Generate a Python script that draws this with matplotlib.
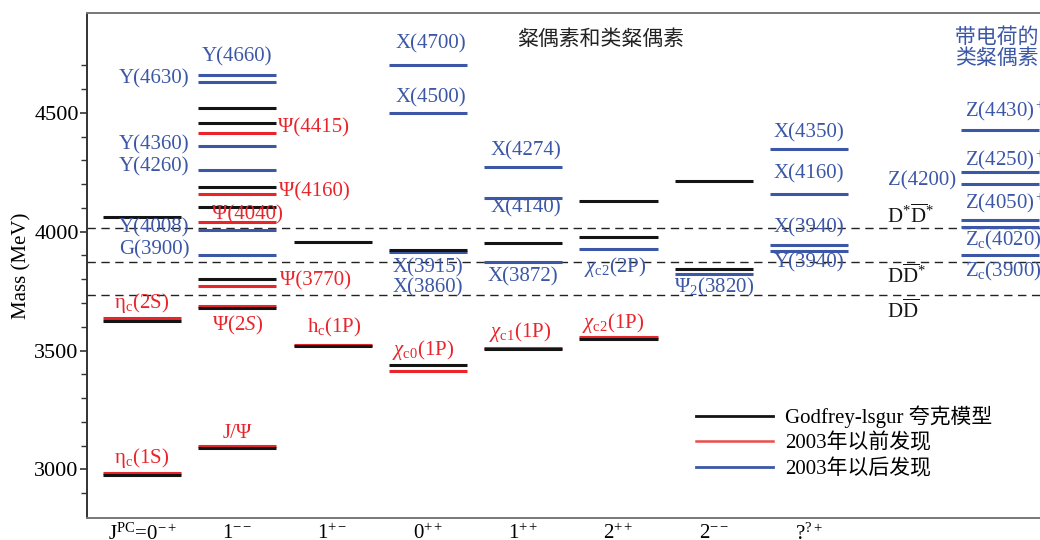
import matplotlib
matplotlib.use("Agg")
import matplotlib.pyplot as plt
from matplotlib.lines import Line2D
from matplotlib.ticker import MultipleLocator

plt.rcParams['font.family'] = ['Liberation Serif', 'Noto Sans CJK SC']
plt.rcParams['mathtext.fontset'] = 'custom'
plt.rcParams['mathtext.rm'] = 'Liberation Serif'
plt.rcParams['mathtext.it'] = 'Liberation Serif:italic'
plt.rcParams['mathtext.bf'] = 'Liberation Serif:bold'

# J^PC columns (index 9 holds the charged states)
jpc_labels = ['J$^{\\mathrm{PC}}$=0$^{-+}$', '1$^{--}$', '1$^{+-}$', '0$^{++}$',
              '1$^{++}$', '2$^{++}$', '2$^{--}$', '?$^{?+}$']

# Godfrey-Isgur quark model predictions
gi_col = [0, 0, 0, 1, 1, 1, 1, 1, 1, 1, 2, 2, 3, 3, 4, 4, 5, 5, 5, 6, 6]
gi_mass = [2975, 3623, 4064, 3090, 3680, 3799, 4102, 4190, 4456, 4520,
           3517, 3956, 3440, 3922, 3507, 3951, 3550, 3976, 4130, 3845, 4212]

# states observed before 2003
old_col = [0, 0, 1, 1, 1, 1, 1, 1, 2, 3, 4, 5]
old_mass = [2984, 3637, 3097, 3686, 3770, 4040, 4160, 4415, 3525, 3415, 3511, 3556]

# states observed after 2003
new_col = [1, 1, 1, 1, 1, 1, 3, 3, 3, 4, 4, 4, 5, 6, 7, 7, 7, 7,
           9, 9, 9, 9, 9, 9]
new_mass = [3900, 4008, 4260, 4360, 4630, 4660, 3915, 4500, 4700,
            3872, 4140, 4274, 3927, 3822, 3918, 3942, 4160, 4350,
            3900, 4020, 4050, 4200, 4250, 4430]

# open-charm thresholds
thr_names = ['D$^{*}\\overline{\\mathrm{D}}^{*}$', 'D$\\overline{\\mathrm{D}}^{*}$',
             'D$\\overline{\\mathrm{D}}$']
thr_mass = [4014, 3872, 3734]

# state names: text, column, mass, colour group
lab_text = ['Y(4660)', 'Y(4630)', 'Y(4360)', 'Y(4260)', 'Y(4008)', 'G(3900)',
            'Ψ(4415)', 'Ψ(4160)', 'Ψ(4040)', 'Ψ(3770)', 'Ψ(2$S$)', 'J/Ψ',
            'η$_\\mathrm{c}$(2S)', 'η$_\\mathrm{c}$(1S)', 'h$_\\mathrm{c}$(1P)',
            '$\\mathit{χ}_\\mathrm{c0}$(1P)', '$\\mathit{χ}_\\mathrm{c1}$(1P)',
            '$\\mathit{χ}_\\mathrm{c2}$(1P)',
            'X(4700)', 'X(4500)', 'X(3915)', 'X(3860)', 'X(4274)', 'X(4140)',
            'X(3872)', '$\\mathit{χ}_\\mathrm{c2}$(2P)', 'Ψ$_2$(3820)',
            'X(4350)', 'X(4160)', 'X(3940)', 'Y(3940)',
            'Z(4430)$^+$', 'Z(4250)$^+$', 'Z(4200)', 'Z(4050)$^+$',
            'Z$_\\mathrm{c}$(4020)$^+$', 'Z$_\\mathrm{c}$(3900)$^+$']
lab_col = [1, 1, 1, 1, 1, 1, 1, 1, 1, 1, 1, 1, 0, 0, 2, 3, 4, 5,
           3, 3, 3, 3, 4, 4, 4, 5, 6, 7, 7, 7, 7, 9, 9, 9, 9, 9, 9]
lab_mass = [4660, 4630, 4360, 4260, 4008, 3900, 4415, 4160, 4040, 3770, 3686, 3097,
            3637, 2984, 3525, 3415, 3511, 3556,
            4700, 4500, 3915, 3860, 4274, 4140, 3872, 3927, 3822,
            4350, 4160, 3942, 3918, 4430, 4250, 4200, 4050, 4020, 3900]
lab_group = ['new'] * 6 + ['old'] * 12 + ['new'] * 19

# label placement: anchor on the level (left end / centre / right end), pixel offsets
lab_place = [('c', 0, 18), ('l', -9, 3), ('l', -9, 1), ('l', -9, 3), ('l', -9, 2), ('l', -9, 6),
             ('r', 2, 5), ('r', 3, 2), ('c', 10, 7), ('r', 4, 6), ('c', 0, -19), ('c', 0, 13),
             ('c', 0, 15), ('c', 0, 15), ('c', 2, 17), ('c', -5, 21), ('c', -3, 16), ('c', -5, 14),
             ('c', 3, 22), ('c', 3, 15), ('c', 0, -16), ('c', 0, -23), ('c', 3, 16), ('c', 3, -9),
             ('c', 0, -15), ('c', -3, -18), ('c', 0, -13),
             ('c', 0, 16), ('c', 0, 20), ('c', 0, 18), ('c', 0, -12),
             ('l', 4, 19), ('l', 4, 12), ('l', -5, 3), ('l', 4, 17), ('l', 4, -13), ('l', 4, -15)]

BLACK = '#141414'
RED = '#e9252b'
BLUE = '#3b57a6'
colors = {'gi': BLACK, 'old': RED, 'new': BLUE}
half = 0.41

fig = plt.figure(figsize=(10.4, 5.4), dpi=100)
ax = fig.add_axes([0.0837, 0.0407, 0.95, 0.935])

for m in thr_mass:
    ax.axhline(m, color='#222222', lw=1.0, ls=(0, (6, 4)), zorder=1)

ax.hlines(new_mass, [c - half for c in new_col], [c + half for c in new_col],
          colors=BLUE, lw=2.2, zorder=2)
ax.hlines(old_mass, [c - half for c in old_col], [c + half for c in old_col],
          colors=RED, lw=2.2, zorder=3)
ax.hlines(gi_mass, [c - half for c in gi_col], [c + half for c in gi_col],
          colors=BLACK, lw=2.2, zorder=4)

for txt, c, m, g, (anc, dx, dy) in zip(lab_text, lab_col, lab_mass, lab_group, lab_place):
    if anc == 'c':
        x, ha = c, 'center'
    elif anc == 'l':
        x, ha = c - half, ('left' if dx > 0 else 'right')
    else:
        x, ha = c + half, 'left'
    ax.annotate(txt, (x, m), xytext=(dx, dy), textcoords='offset pixels',
                ha=ha, va='center', color=colors[g], fontsize=15, zorder=5)

thr_dy = [12, -14, -16]
for name, m, dy in zip(thr_names, thr_mass, thr_dy):
    ax.annotate(name, (7.82, m), xytext=(0, dy), textcoords='offset pixels',
                ha='left', va='center', color=BLACK, fontsize=15)

ax.text(0.52, 0.948, '粲偶素和类粲偶素', transform=ax.transAxes, ha='center',
        va='center', fontsize=15, color='#222222',
        family=['Noto Sans CJK SC', 'DejaVu Sans'])
ax.text(0.879, 0.933, '带电荷的\n类粲偶素', transform=ax.transAxes, ha='left',
        va='center', fontsize=15, color=BLUE, linespacing=0.95,
        family=['Noto Sans CJK SC', 'DejaVu Sans'])

handles = [Line2D([], [], color=BLACK, lw=2.0),
           Line2D([], [], color='#ee4a4a', lw=1.8),
           Line2D([], [], color=BLUE, lw=2.0)]
ax.legend(handles, ['Godfrey-lsgur 夸克模型', '2003年以前发现', '2003年以后发现'],
          loc='upper left', bbox_to_anchor=(0.616, 0.223), frameon=False,
          handlelength=3.7, handletextpad=0.6, labelspacing=0.25,
          borderpad=0, borderaxespad=0, fontsize=15)

ax.set_xlim(-0.577, 9.79)
ax.set_ylim(2795, 4920)
ax.set_xticks(range(len(jpc_labels)))
ax.set_xticklabels(jpc_labels, fontsize=15)
ax.tick_params(axis='x', length=0, pad=4)
ax.yaxis.set_major_locator(MultipleLocator(500))
ax.set_yticks([2900, 3100, 3200, 3300, 3400, 3600, 3700, 3800, 3900,
               4100, 4200, 4300, 4400, 4600, 4700], minor=True)
ax.tick_params(axis='y', which='major', length=5, width=1.2, labelsize=16, pad=1,
               color='#333333')
ax.tick_params(axis='y', which='minor', length=4, width=1.0, color='#333333')
ax.set_ylabel('Mass (MeV)', fontsize=15, labelpad=2)

ax.spines['right'].set_visible(False)
ax.spines['left'].set_color('#333333')
ax.spines['left'].set_linewidth(1.4)
ax.spines['top'].set_color('#777777')
ax.spines['top'].set_linewidth(1.4)
ax.spines['bottom'].set_color('#777777')
ax.spines['bottom'].set_linewidth(1.4)

fig.savefig('out.png', dpi=100)
